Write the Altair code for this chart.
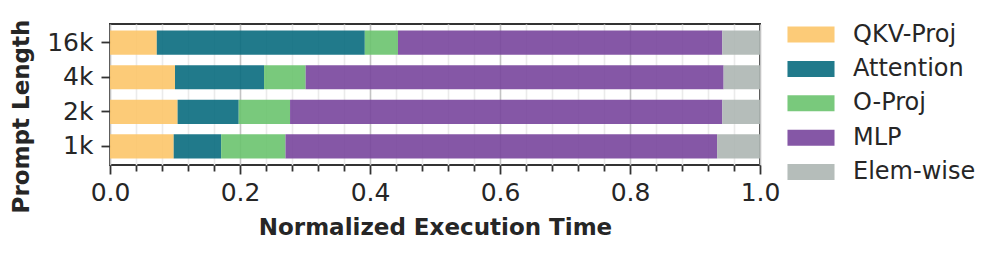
import altair as alt
import pandas as pd

lengths = ["16k", "4k", "2k", "1k"]
components = ["QKV-Proj", "Attention", "O-Proj", "MLP", "Elem-wise"]
qkv = [0.072, 0.100, 0.104, 0.098]
attention = [0.320, 0.137, 0.094, 0.073]
oproj = [0.051, 0.064, 0.079, 0.099]
mlp = [0.499, 0.643, 0.665, 0.664]
elemwise = [0.058, 0.056, 0.058, 0.066]
series = [qkv, attention, oproj, mlp, elemwise]
colors = ["#fcc569", "#096b7e", "#6ac36e", "#78459c", "#adb6b3"]
ticks = [0.0, 0.04, 0.08, 0.12, 0.16, 0.2, 0.24, 0.28, 0.32, 0.36, 0.4,
         0.44, 0.48, 0.52, 0.56, 0.6, 0.64, 0.68, 0.72, 0.76, 0.8,
         0.84, 0.88, 0.92, 0.96, 1.0]

rows = []
for i, comp in enumerate(components):
    for j, L in enumerate(lengths):
        rows.append({"length": L, "component": comp, "order": i, "value": series[i][j]})
df = pd.DataFrame(rows)

FONT = "DejaVu Sans"
TXT = "#262626"
major_test = "abs(datum.value*5 - round(datum.value*5)) < 1e-6"

x_axis = alt.Axis(
    values=ticks,
    orient="bottom",
    labelExpr=f"{major_test} ? format(datum.value, '.1f') : ''",
    labelOverlap=False,
    labelFlush=False,
    labelFontSize=25,
    labelFont=FONT,
    labelColor=TXT,
    labelPadding=6.5,
    grid=True,
    gridColor={"condition": {"test": major_test, "value": "#c4c4c4"}, "value": "#ebebeb"},
    gridWidth=1.6,
    tickSize={"condition": {"test": major_test, "value": 9}, "value": 6},
    tickColor="#333333",
    tickWidth=1.8,
    domain=False,
    title="Normalized Execution Time",
    titleFontSize=23,
    titleFont=FONT,
    titleFontWeight="bold",
    titleColor=TXT,
    titleBaseline="alphabetic",
    titleY=69,
    zindex=0,
)

y_axis = alt.Axis(
    title="Prompt Length",
    titleFontSize=23,
    titleFont=FONT,
    titleFontWeight="bold",
    titleColor=TXT,
    titleAngle=270,
    titleBaseline="alphabetic",
    titleAlign="center",
    titleX=-82,
    titleY=92,
    labelFontSize=25,
    labelFont=FONT,
    labelColor=TXT,
    labelPadding=8,
    tickSize=9,
    tickColor="#333333",
    tickWidth=1.8,
    domain=False,
    grid=False,
)

chart = alt.Chart(df).mark_bar(opacity=0.9).encode(
    x=alt.X("value:Q", stack="zero", scale=alt.Scale(domain=[0, 1], nice=False), axis=x_axis),
    y=alt.Y("length:N", sort=lengths,
            scale=alt.Scale(paddingInner=0.3, paddingOuter=0.19), axis=y_axis),
    color=alt.Color("component:N", sort=components,
                    scale=alt.Scale(domain=components, range=colors),
                    legend=alt.Legend(
                        title=None, orient="none", legendX=689, legendY=-1.5,
                        symbolType="M-2.94,-1H2.94V1H-2.94Z",
                        symbolSize=256, symbolStrokeWidth=0, symbolOpacity=0.9,
                        labelFontSize=24, labelFont=FONT, labelColor=TXT,
                        rowPadding=10.4, padding=0, labelOffset=30,
                    )),
    order=alt.Order("order:Q"),
).properties(
    width=650, height=141,
    autosize=alt.AutoSizeParams(type="none"),
    padding={"left": 102, "top": 16, "right": 220, "bottom": 78},
).configure_view(
    stroke="#333333", strokeWidth=2
)

chart.save("out.html", embed_options={"renderer": "svg", "actions": False})
